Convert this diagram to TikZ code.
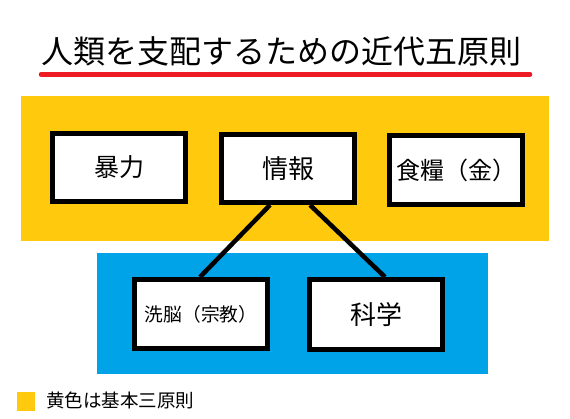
\documentclass[tikz,border=0pt]{standalone}
\usepackage{fontspec}
\setmainfont{Noto Sans CJK JP}
\definecolor{pgold}{HTML}{FFC90E}
\definecolor{pblue}{HTML}{00A2E8}
\definecolor{pred}{HTML}{ED1C24}
\begin{document}
\begin{tikzpicture}[x=1pt,y=-1pt,
  box/.style={draw=black,fill=white,line width=5pt,minimum width=133pt,minimum height=68pt,inner sep=0pt},
  link/.style={draw=black,line width=4.5pt},
  panel/.style={inner sep=0pt,outer sep=0pt}]
\useasboundingbox[fill=white] (0,0) rectangle (570,419);
% title
\node[panel,font=\fontsize{32}{32}\selectfont] (title) at (281.5,51) {人類を支配するための近代五原則};
\coordinate (ulA) at (41,74.5);
\coordinate (ulB) at (530,74.5);
\draw[pred,line width=4.5pt,line cap=round] (ulA) -- (ulB);
% panels
\fill[pgold] (21,96) rectangle (549,241);
\fill[pblue] (97,253) rectangle (488,374);
% boxes
\node[box,font=\fontsize{25}{25}\selectfont] (violence) at (119,167.5) {暴力\hspace{12pt}};
\node[box,font=\fontsize{26}{26}\selectfont] (info) at (288,168.5) {情報\hspace{9pt}};
\node[box,minimum height=69pt,font=\fontsize{24}{24}\selectfont] (food) at (456,170) {食糧（金）};
\node[box,minimum height=69pt,font=\fontsize{18.7}{18.7}\selectfont] (brain) at (201,314) {洗脳（宗教）\hspace{4pt}};
\node[box,minimum height=70pt,font=\fontsize{26}{26}\selectfont] (science) at (376,314.5) {科学\hspace{13pt}};
% connectors
\draw[link] ([xshift=51pt]info.south west) -- ([xshift=68pt]brain.north west);
\draw[link] ([xshift=91pt]info.south west) -- ([xshift=78pt]science.north west);
% legend
\fill[pgold] (17,392) rectangle (35,411);
\node[panel,anchor=west,font=\fontsize{18.5}{18.5}\selectfont] (legend) at (46,400) {黄色は基本三原則};
\end{tikzpicture}
\end{document}
